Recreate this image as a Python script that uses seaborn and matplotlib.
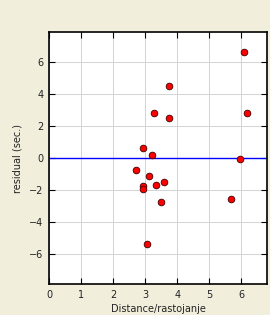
import matplotlib
matplotlib.use("Agg")
import matplotlib.pyplot as plt
import seaborn as sns
import pandas as pd

distance = [6.09, 3.75, 3.28, 3.75, 6.19, 2.94, 3.22, 5.97, 2.72, 3.13, 3.34, 3.59, 2.94, 2.94, 3.50, 5.69, 3.06]
residual = [6.60, 4.48, 2.79, 2.48, 2.79, 0.60, 0.17, -0.08, -0.77, -1.14, -1.70, -1.52, -1.77, -1.96, -2.77, -2.58, -5.40]
xticks = [0, 1, 2, 3, 4, 5, 6]
yticks = [-6, -4, -2, 0, 2, 4, 6]

df = pd.DataFrame({"distance": distance, "residual": residual})

sns.set_style("white")
plt.rcParams['font.family'] = ['DejaVu Sans']
bg = "#F1EFDC"
fig = plt.figure(figsize=(2.7, 3.15), dpi=100, facecolor=bg)
ax = fig.add_axes([0.1815, 0.0984, 0.8075, 0.7996])
ax.set_facecolor("white")

sns.scatterplot(data=df, x="distance", y="residual", ax=ax, color="red",
                edgecolor="#400000", linewidth=0.6, s=23, zorder=3)
ax.axhline(0, color="#0000FF", lw=1.0, zorder=2)

ax.set_xlim(0, 6.8)
ax.set_ylim(-7.9, 7.85)
ax.set_xticks(xticks)
ax.set_yticks(yticks)
ax.set_xticklabels([str(t) for t in xticks])
ax.set_yticklabels([f"{t}".replace("-", "\u2212") for t in yticks])
ax.grid(True, color="#cccccc", lw=0.6)
ax.set_axisbelow(True)
ax.tick_params(direction="in", length=4, width=0.8, labelsize=7, colors="#000000",
               top=True, right=True, bottom=True, left=True, pad=4, labelcolor="#222222")
for s in ax.spines.values():
    s.set_color("black")
    s.set_linewidth(1.2)
ax.set_xlabel("Distance/rastojanje", fontsize=7, color="#222222", labelpad=3)
ax.set_ylabel("residual (sec.)", fontsize=7, color="#222222", labelpad=5)

fig.savefig("out.png", dpi=100, facecolor=bg)
